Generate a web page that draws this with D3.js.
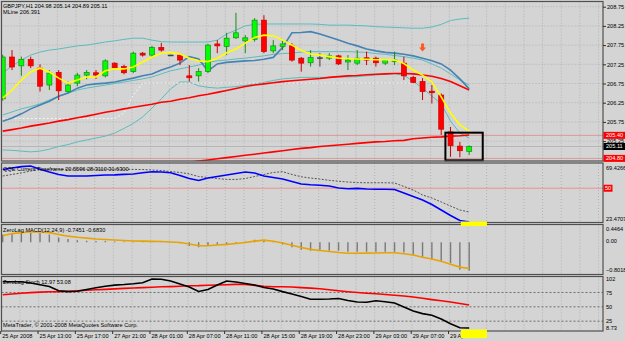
<!DOCTYPE html>
<html>
<head>
<meta charset="utf-8">
<script src="https://cdn.jsdelivr.net/npm/d3@7"></script>
<style>
  body { margin: 0; background: #d4d4d4; }
  svg { display: block; font-family: "Liberation Sans", Arial, sans-serif; }
</style>
</head>
<body>
<svg id="chart" width="625" height="341"></svg>
<script>
// ---- data ----
const opens = [206.35,207.44,207.21,207.38,207.15,206.71,207.04,206.54,206.76,206.97,
  207.03,206.95,207.28,207.19,207.06,207.54,207.49,207.69,207.49,207.49,
  206.95,206.95,207.06,207.78,207.71,207.94,207.86,207.90,208.40,207.60,
  207.71,207.73,207.41,207.29,207.42,207.41,207.47,207.31,207.28,207.42,
  207.41,207.28,207.32,207.28,206.91,206.80,206.55,206.45,205.49,205.12,204.98];
const highs = [207.50,207.62,207.45,207.45,207.25,207.10,207.10,206.80,207.03,207.10,
  207.10,207.38,207.30,207.24,207.58,207.57,207.73,207.81,207.50,207.50,
  207.23,207.15,207.78,207.88,208.07,208.59,208.01,208.45,208.53,207.88,
  207.88,207.80,207.44,207.62,207.54,207.54,207.50,207.49,207.62,207.58,
  207.45,207.38,207.58,207.45,206.95,206.89,206.71,206.49,205.62,205.23,205.14];
const lows = [206.30,207.10,206.95,207.15,206.54,206.58,206.32,206.51,206.68,206.86,
  206.87,206.91,207.12,206.99,207.02,207.45,207.43,207.58,207.47,207.23,
  206.80,206.80,207.02,207.54,207.49,207.91,207.54,207.84,207.54,207.54,
  207.62,207.32,207.06,207.19,207.19,207.36,207.23,207.10,207.23,207.23,
  207.19,207.23,207.23,206.84,206.76,206.32,206.23,205.41,204.84,204.83,204.89];
const closes = [207.44,207.18,207.38,207.21,206.68,207.02,206.56,206.71,206.97,207.04,
  206.97,207.34,207.16,207.03,207.54,207.49,207.69,207.62,207.49,207.36,
  206.90,207.06,207.75,207.73,207.93,208.07,207.94,208.40,207.58,207.73,
  207.78,207.36,207.28,207.43,207.42,207.47,207.26,207.36,207.41,207.36,
  207.29,207.36,207.36,206.95,206.78,206.54,206.51,205.56,205.13,205.00,205.11];

const maYellow = [206.37,206.58,206.84,207.05,207.15,207.05,206.89,206.76,206.84,206.92,
  206.92,207.08,207.13,207.13,207.18,207.31,207.44,207.54,207.56,207.52,
  207.41,207.34,207.32,207.41,207.55,207.65,207.80,207.95,208.01,207.99,
  207.88,207.75,207.61,207.52,207.49,207.45,207.41,207.40,207.39,207.38,
  207.37,207.37,207.36,207.27,207.10,206.97,206.79,206.40,205.98,205.67,205.51];
const maBlue = [205.77,205.85,205.96,206.09,206.19,206.29,206.42,206.50,206.63,206.71,
  206.74,206.76,206.79,206.84,206.89,206.95,207.00,207.10,207.18,207.28,
  207.45,207.39,207.08,207.26,207.30,207.32,207.34,207.35,207.38,207.43,
  207.69,208.07,208.08,208.10,208.04,207.96,207.88,207.80,207.73,207.65,
  207.60,207.56,207.54,207.51,207.47,207.41,207.34,207.26,207.10,206.87,206.61];
const maRed = [205.51,205.55,205.59,205.64,205.68,205.72,205.77,205.81,205.86,205.90,
  205.95,206.00,206.04,206.09,206.13,206.17,206.21,206.26,206.29,206.34,
  206.38,206.43,206.47,206.52,206.57,206.62,206.67,206.71,206.74,206.77,
  206.80,206.82,206.84,206.86,206.88,206.91,206.93,206.95,206.96,206.98,
  206.99,207.00,207.01,207.01,207.00,206.97,206.94,206.88,206.80,206.69,206.58];
const maRedSlow = [204.09,204.12,204.15,204.18,204.21,204.24,204.27,204.30,204.33,204.37,
  204.40,204.43,204.46,204.49,204.52,204.55,204.58,204.61,204.64,204.67,
  204.70,204.73,204.76,204.79,204.82,204.85,204.88,204.91,204.94,204.97,
  205.00,205.03,205.06,205.08,205.11,205.13,205.15,205.17,205.19,205.21,
  205.23,205.24,205.26,205.27,205.31,205.33,205.35,205.36,205.38,205.39,205.41];
const bandUpper = [207.02,207.21,207.36,207.49,207.57,207.62,207.65,207.69,207.73,207.75,
  207.79,207.83,207.86,207.90,207.93,207.93,207.88,207.84,207.83,207.83,
  207.83,207.83,207.83,207.88,208.04,208.14,208.25,208.29,208.30,208.30,
  208.30,208.30,208.30,208.30,208.29,208.27,208.27,208.27,208.26,208.25,
  208.23,208.22,208.21,208.20,208.19,208.19,208.22,208.29,208.39,208.43,208.45];
const bandMiddle = [205.93,206.01,206.09,206.15,206.22,206.32,206.42,206.50,206.58,206.63,
  206.67,206.71,206.75,206.79,206.83,206.87,206.92,207.00,207.08,207.13,
  207.18,207.23,207.30,207.34,207.36,207.39,207.41,207.44,207.47,207.51,
  207.53,207.54,207.57,207.58,207.58,207.58,207.58,207.58,207.57,207.56,
  207.53,207.51,207.48,207.45,207.41,207.36,207.26,207.15,207.00,206.84,206.71];
const bandLower = [205.02,205.01,204.99,204.97,204.99,205.04,205.11,205.16,205.23,205.28,
  205.33,205.38,205.46,205.58,205.71,205.88,206.11,206.35,206.61,206.79,
  206.79,206.69,206.65,206.63,206.65,206.67,206.70,206.74,206.78,206.83,
  206.87,206.89,206.91,206.91,206.91,206.91,206.92,206.92,206.93,206.95,
  206.97,206.99,207.01,206.96,206.81,206.63,206.42,206.22,205.77,205.46,205.33];
const stopLine = [205.84,205.84,205.84,205.84,205.84,205.84,205.84,205.84,205.84,205.84,
  205.84,205.84,205.84,205.98,206.45,206.76,206.76,206.76,206.76,206.76,
  206.76,206.76,206.76,206.76,206.76,206.76,206.76,206.76,206.76,206.76,
  206.76,206.76,206.76,206.76,206.76,206.76,206.76,206.76,206.76,206.76,
  206.76,206.76,206.76,206.76,206.76,null,null,null,null,null,null];

const qqeMain = [64.7,65.9,67.0,67.5,64.9,62.7,60.8,59.6,59.6,59.6,
  60.0,60.4,60.5,60.9,61.2,62.1,62.9,62.7,62.1,60.0,
  57.6,56.1,58.0,59.2,60.4,61.6,62.7,62.0,59.6,58.4,
  57.2,55.3,53.3,52.7,52.3,51.7,50.2,49.6,49.9,49.4,
  49.2,49.2,49.0,46.2,43.5,40.8,37.2,32.9,28.6,24.6,23.5];
const qqeTrail = [59.6,60.8,62.0,63.5,64.9,64.9,64.9,64.9,64.9,64.9,
  64.9,64.9,64.9,64.9,64.8,64.7,64.3,63.9,63.1,62.4,
  61.2,59.2,58.4,57.6,56.9,56.9,57.6,59.2,60.8,62.4,
  63.0,60.8,59.0,58.0,57.2,56.2,55.5,54.9,54.4,54.3,
  54.3,54.3,54.1,51.4,48.6,44.7,42.3,39.2,36.0,32.9,31.3];

const macdHist = [0.20,0.24,0.25,0.24,0.23,0.20,0.12,0.08,0.05,0.04,
  0.03,0.03,0.02,0.02,0.02,0.02,0.02,0.01,0.00,-0.03,
  -0.10,-0.13,-0.09,-0.06,-0.05,-0.02,0.02,0.06,0.05,-0.01,
  -0.06,-0.13,-0.20,-0.22,-0.22,-0.22,-0.22,-0.25,-0.25,-0.25,
  -0.25,-0.25,-0.25,-0.27,-0.33,-0.38,-0.46,-0.51,-0.55,-0.72,-0.745];
const macdSignal = [0.166,0.223,0.249,0.270,0.265,0.249,0.200,0.156,0.127,0.106,
  0.083,0.070,0.057,0.044,0.031,0.026,0.021,0.016,0.005,-0.008,
  -0.047,-0.094,-0.094,-0.073,-0.057,-0.034,-0.008,0.026,0.052,0.023,
  -0.021,-0.081,-0.138,-0.187,-0.218,-0.244,-0.270,-0.288,-0.288,-0.286,
  -0.281,-0.275,-0.275,-0.301,-0.332,-0.390,-0.436,-0.496,-0.574,-0.649,-0.683];

const stochMain = [93.8,93.8,93.6,91.5,88.6,85.4,77.9,76.5,77.2,80.2,
  83.2,85.8,87.9,88.8,90.1,92.1,98.5,98.0,95.0,89.8,
  84.6,76.7,80.2,88.1,95.0,93.3,90.7,88.1,83.7,81.1,
  76.5,72.4,68.0,63.1,63.1,63.6,64.5,61.0,58.4,57.9,
  60.5,58.8,56.7,49.7,42.7,38.2,35.4,28.8,20.6,13.6,12.97];
const stochSignal = [71.0,72.4,73.8,74.8,75.7,76.2,76.5,77.2,78.1,79.0,
  79.7,80.4,81.3,82.1,82.8,83.5,84.2,84.9,85.3,86.0,
  86.7,87.0,87.7,88.1,88.6,89.1,88.8,87.4,86.0,85.1,
  85.1,84.6,83.5,82.6,81.4,79.7,78.1,76.4,75.0,73.8,
  72.7,71.5,70.3,68.9,67.1,65.0,62.6,60.5,58.4,55.8,53.08];
const stochLevels = [75, 50, 25];

const priceTicks = [208.75, 208.25, 207.75, 207.25, 206.75, 206.25, 205.75, 205.25];
const priceMarks = [{v: 205.40, c: "#ff0000"}, {v: 204.80, c: "#ff0000"}, {v: 205.11, c: "#000000"}];
const qqeTicks = [69.4266, 23.4707];
const qqeLevel = 50;
const macdTicks = [0.4464, 0.00, -0.8018];
const stochTicks = [102, 75, 50, 25, 8.73];
const tickBars = [0, 4, 8, 12, 16, 20, 24, 28, 32, 36, 40, 44, 48];
const timeLabels = ["25 Apr 2008", "25 Apr 13:00", "25 Apr 17:00", "27 Apr 21:00", "28 Apr 01:00",
  "28 Apr 07:00", "28 Apr 11:00", "28 Apr 15:00", "28 Apr 19:00", "28 Apr 23:00",
  "29 Apr 03:00", "29 Apr 07:00", "29 Apr 11:00"];
const arrowBar = 45, arrowPrice = 207.66;

// ---- layout ----
const svg = d3.select("#chart");
const left = 1.5, right = 603;
const panels = {
  main:  {top: 1.5,   bottom: 161},
  qqe:   {top: 163,   bottom: 222.5},
  macd:  {top: 224.5, bottom: 274.5},
  stoch: {top: 276.5, bottom: 331}
};

const x = d3.scaleLinear().domain([0, 50]).range([2.7, 469.2]);
const yMain = d3.scaleLinear().domain([208.75, 204.80]).range([6.7, 158.4]);
const yQqe = d3.scaleLinear().domain([qqeTicks[0], qqeTicks[1]]).range([163.5, 222]);
const yMacd = d3.scaleLinear().domain([macdTicks[0], macdTicks[2]]).range([225, 273]);
const yStoch = d3.scaleLinear().domain([102, 8.73]).range([277, 330.5]);
const bars = d3.range(opens.length);

svg.append("rect").attr("width", 625).attr("height", 341).attr("fill", "#d4d4d4");

const defs = svg.append("defs");
Object.keys(panels).forEach(function(k) {
  const p = panels[k];
  defs.append("clipPath").attr("id", "clip-" + k)
    .append("rect").attr("x", left).attr("y", p.top).attr("width", right - left).attr("height", p.bottom - p.top);
});

function panelGroup(k) {
  return svg.append("g").attr("clip-path", "url(#clip-" + k + ")");
}

// dotted vertical grid, every 2 bars, all panels
Object.keys(panels).forEach(function(k) {
  const p = panels[k];
  const g = panelGroup(k);
  g.selectAll("line").data(d3.range(0, 66, 2)).enter().append("line")
    .attr("x1", d => x(d) - 1.3).attr("x2", d => x(d) - 1.3)
    .attr("y1", p.top).attr("y2", p.bottom)
    .attr("stroke", "#a9a9a9").attr("stroke-width", 0.8).attr("stroke-dasharray", "1,2");
});

// ---- main panel ----
const gMain = panelGroup("main");
gMain.selectAll("line.hgrid").data(priceTicks).enter().append("line").attr("class", "hgrid")
  .attr("x1", left).attr("x2", right).attr("y1", d => yMain(d)).attr("y2", d => yMain(d))
  .attr("stroke", "#a9a9a9").attr("stroke-width", 0.8).attr("stroke-dasharray", "1,2");

// level lines
gMain.selectAll("line.level").data(priceMarks).enter().append("line").attr("class", "level")
  .attr("x1", left).attr("x2", right).attr("y1", d => yMain(d.v)).attr("y2", d => yMain(d.v))
  .attr("stroke", d => d.c === "#000000" ? "#9a9a9a" : "#e06060")
  .attr("stroke-width", 1).attr("stroke-dasharray", "1,1");

function mainLine(data, color, width, dash) {
  const line = d3.line().defined(d => d != null).x((d, i) => x(i)).y(d => yMain(d));
  gMain.append("path").datum(data).attr("d", line).attr("fill", "none")
    .attr("stroke", color).attr("stroke-width", width)
    .attr("stroke-dasharray", dash || null);
}

mainLine(bandUpper, "#5cbcbc", 1);
mainLine(bandMiddle, "#5cbcbc", 1);
mainLine(bandLower, "#5cbcbc", 1);
mainLine(stopLine, "#f4f4f4", 1, "2,2");
mainLine(maRedSlow, "#ff0000", 1.6);
mainLine(maRed, "#ff0000", 1.6);
mainLine(maBlue, "#4682b4", 1.6);

// candles
const bw = 5;
const candle = gMain.selectAll("g.candle").data(bars).enter().append("g").attr("class", "candle");
candle.append("line")
  .attr("x1", i => x(i)).attr("x2", i => x(i))
  .attr("y1", i => yMain(highs[i])).attr("y2", i => yMain(lows[i]))
  .attr("stroke", i => closes[i] > opens[i] ? "#1a8a1a" : (closes[i] < opens[i] ? "#cc0000" : "#404040"))
  .attr("stroke-width", 1);
candle.append("rect")
  .attr("x", i => x(i) - bw / 2)
  .attr("y", i => yMain(Math.max(opens[i], closes[i])))
  .attr("width", bw)
  .attr("height", i => Math.max(0.8, Math.abs(yMain(opens[i]) - yMain(closes[i]))))
  .attr("fill", i => closes[i] > opens[i] ? "#00ff00" : (closes[i] < opens[i] ? "#ff0000" : "#404040"))
  .attr("stroke", i => closes[i] > opens[i] ? "#1a8a1a" : (closes[i] < opens[i] ? "#cc0000" : "#404040"))
  .attr("stroke-width", 0.7);

mainLine(maYellow, "#ffff00", 1.6);

// down arrow signal
gMain.append("path")
  .attr("transform", "translate(" + x(arrowBar) + "," + yMain(arrowPrice) + ")")
  .attr("d", "M-1.5,-5 L1.5,-5 L1.5,-1 L3.5,-1 L0,3 L-3.5,-1 L-1.5,-1 Z")
  .attr("fill", "#ff5a1e");

// highlight box around the last bars
svg.append("rect")
  .attr("x", x(47.45)).attr("y", yMain(205.47))
  .attr("width", x(51.45) - x(47.45)).attr("height", yMain(204.75) - yMain(205.47))
  .attr("fill", "none").attr("stroke", "#000").attr("stroke-width", 2);

svg.append("text").attr("x", 3).attr("y", 8).attr("font-size", 5.6).attr("fill", "#000")
  .text("GBPJPY,H1  " + [opens[50], highs[50], lows[50], closes[50]].map(d3.format(".2f")).join(" "));
svg.append("text").attr("x", 3).attr("y", 14).attr("font-size", 5.6).attr("fill", "#000")
  .text("MLine 206.391");

// ---- QQE panel ----
const gQqe = panelGroup("qqe");
gQqe.append("line").attr("x1", left).attr("x2", right)
  .attr("y1", yQqe(qqeLevel)).attr("y2", yQqe(qqeLevel))
  .attr("stroke", "#ff5050").attr("stroke-width", 1).attr("stroke-dasharray", "1,1");
gQqe.append("path").datum(qqeTrail)
  .attr("d", d3.line().x((d, i) => x(i)).y(d => yQqe(d)))
  .attr("fill", "none").attr("stroke", "#333").attr("stroke-width", 0.8).attr("stroke-dasharray", "2,1.5");
gQqe.append("path").datum(qqeMain)
  .attr("d", d3.line().x((d, i) => x(i)).y(d => yQqe(d)))
  .attr("fill", "none").attr("stroke", "#0000ff").attr("stroke-width", 1.6);
svg.append("text").attr("x", 3).attr("y", 171).attr("font-size", 5.6).attr("fill", "#000")
  .text("QQE Current Timeframe 20.5596 28.3110 31.6300");

// ---- ZeroLag MACD panel ----
const gMacd = panelGroup("macd");
gMacd.selectAll("line.hist").data(bars).enter().append("line").attr("class", "hist")
  .attr("x1", i => x(i)).attr("x2", i => x(i))
  .attr("y1", yMacd(0)).attr("y2", i => yMacd(macdHist[i]))
  .attr("stroke", "#7a7a7a").attr("stroke-width", 1.4);
gMacd.append("path").datum(macdSignal)
  .attr("d", d3.line().x((d, i) => x(i)).y(d => yMacd(d)))
  .attr("fill", "none").attr("stroke", "#e8a400").attr("stroke-width", 1.6);
svg.append("text").attr("x", 3).attr("y", 232).attr("font-size", 5.6).attr("fill", "#000")
  .text("ZeroLag MACD(12,24,9) -0.7451 -0.6830");

// ---- ZeroLag Stoch panel ----
const gStoch = panelGroup("stoch");
gStoch.selectAll("line.lvl").data(stochLevels).enter().append("line").attr("class", "lvl")
  .attr("x1", left).attr("x2", right).attr("y1", d => yStoch(d)).attr("y2", d => yStoch(d))
  .attr("stroke", "#555").attr("stroke-width", 0.8).attr("stroke-dasharray", "2,2");
gStoch.append("path").datum(stochSignal)
  .attr("d", d3.line().x((d, i) => x(i)).y(d => yStoch(d)))
  .attr("fill", "none").attr("stroke", "#ff0000").attr("stroke-width", 1.6);
gStoch.append("path").datum(stochMain)
  .attr("d", d3.line().x((d, i) => x(i)).y(d => yStoch(d)))
  .attr("fill", "none").attr("stroke", "#000").attr("stroke-width", 1.6);
svg.append("text").attr("x", 3).attr("y", 283.5).attr("font-size", 5.6).attr("fill", "#000")
  .text("ZeroLag Stoch 12.97 53.08");
svg.append("text").attr("x", 3).attr("y", 327).attr("font-size", 5.6).attr("fill", "#000")
  .text("MetaTrader, \u00a9 2001-2008 MetaQuotes Software Corp.");

// ---- frames ----
Object.keys(panels).forEach(function(k) {
  const p = panels[k];
  svg.append("rect").attr("x", left).attr("y", p.top).attr("width", right - left).attr("height", p.bottom - p.top)
    .attr("fill", "none").attr("stroke", "#505050").attr("stroke-width", 1.2);
});

// ---- axes ----
function styleAxis(g) {
  g.select(".domain").remove();
  g.selectAll("line").attr("stroke", "#303030");
  g.selectAll("text").attr("font-size", 5.6).attr("fill", "#000").attr("font-family", "Liberation Sans, Arial, sans-serif");
}

const axMain = svg.append("g").attr("transform", "translate(" + right + ",0)")
  .call(d3.axisRight(yMain).tickValues(priceTicks).tickSize(3).tickPadding(1).tickFormat(d3.format(".2f")));
styleAxis(axMain);

const axQqe = svg.append("g").attr("transform", "translate(" + right + ",0)")
  .call(d3.axisRight(yQqe).tickValues(qqeTicks).tickSize(0).tickPadding(3).tickFormat(d3.format(".4f")));
styleAxis(axQqe);
axQqe.selectAll("text").attr("dy", (d, i) => i === 0 ? "1.05em" : "-0.3em");

const axMacd = svg.append("g").attr("transform", "translate(" + right + ",0)")
  .call(d3.axisRight(yMacd).tickValues(macdTicks).tickSize(0).tickPadding(3)
    .tickFormat(d => d === 0 ? "0.00" : d3.format(".4f")(d)));
styleAxis(axMacd);
axMacd.selectAll("text").attr("dy", (d, i) => i === 0 ? "0.9em" : (i === 2 ? "-0.3em" : "0.1em"));

const axStoch = svg.append("g").attr("transform", "translate(" + right + ",0)")
  .call(d3.axisRight(yStoch).tickValues(stochTicks).tickSize(0).tickPadding(3)
    .tickFormat(d => d === 8.73 ? "8.73" : String(d)));
styleAxis(axStoch);
axStoch.selectAll("text").attr("dy", (d, i) => i === 0 ? "0.7em" : (i === 4 ? "-0.2em" : "0.32em"));

// coloured value tags on the price scale
const tags = svg.append("g");
priceMarks.forEach(function(m) {
  const yy = yMain(m.v);
  tags.append("rect").attr("x", right + 0.5).attr("y", yy - 3.5).attr("width", 22).attr("height", 7).attr("fill", m.c);
  tags.append("text").attr("x", right + 3).attr("y", yy).attr("dy", "0.35em")
    .attr("font-size", 5.6).attr("fill", "#fff").text(d3.format(".2f")(m.v));
});
tags.append("rect").attr("x", right + 0.5).attr("y", yQqe(qqeLevel) - 3.5).attr("width", 9).attr("height", 7).attr("fill", "#ff0000");
tags.append("text").attr("x", right + 2).attr("y", yQqe(qqeLevel)).attr("dy", "0.35em")
  .attr("font-size", 5.6).attr("fill", "#fff").text(String(qqeLevel));

// time axis
const axTime = svg.append("g").attr("transform", "translate(0," + panels.stoch.bottom + ")")
  .call(d3.axisBottom(x).tickValues(tickBars).tickSize(3).tickFormat((d, i) => timeLabels[i]));
styleAxis(axTime);
axTime.selectAll(".tick line").attr("transform", "translate(-2.5,0)");
axTime.selectAll(".tick text").attr("text-anchor", "start").attr("x", -1).attr("y", 7).attr("dy", 0);

// yellow marker strokes near the last bars
svg.append("rect").attr("x", x(49.1)).attr("y", panels.qqe.bottom - 1)
  .attr("width", x(51.9) - x(49.1)).attr("height", 4.5).attr("fill", "#ffff00");
svg.append("rect").attr("x", x(49.1)).attr("y", panels.stoch.bottom - 1.5)
  .attr("width", x(51.9) - x(49.1)).attr("height", 8.5).attr("fill", "#ffff00");
</script>
</body>
</html>
